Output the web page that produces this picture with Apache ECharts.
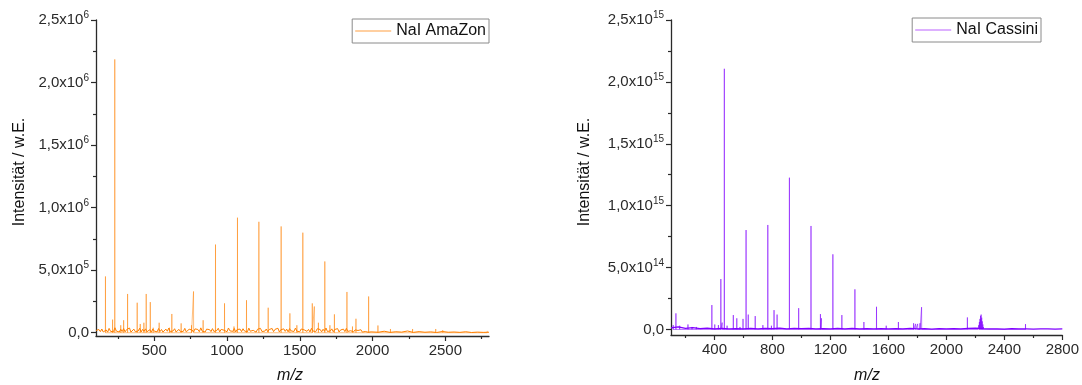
<!DOCTYPE html>
<html><head><meta charset="utf-8">
<script src="https://cdn.jsdelivr.net/npm/echarts@6/dist/echarts.min.js"></script>
<style>html,body{margin:0;padding:0;background:#fff}#c{width:1082px;height:385px}</style>
</head><body><div id="c"></div>
<script>
// ---------- Data: NaI AmaZon (left) ----------
const amazonPeakMz  = [165, 214, 229, 270, 290, 317, 383, 404, 429, 445, 473, 493, 534, 605, 621, 685, 756, 770, 836, 921, 983, 1048, 1072, 1134, 1219, 1283, 1372, 1432, 1480, 1521, 1586, 1600, 1628, 1672, 1707, 1738, 1824, 1862, 1886, 1973, 2037, 2123, 2275, 2434, 2482, 2788];
const amazonPeakInt = [450000, 105000, 2185000, 60000, 100000, 310000, 240000, 70000, 80000, 310000, 245000, 40000, 80000, 40000, 150000, 75000, 60000, 330000, 100000, 705000, 235000, 50000, 920000, 260000, 887000, 200000, 850000, 155000, 60000, 800000, 235000, 210000, 80000, 570000, 60000, 147000, 326000, 50000, 112000, 290000, 58000, 30000, 30000, 30000, 20000, 15000];
const amazonNoiseMz = [
  100,110,120,130,140,150,160,170,180,190,200,210,220,230,240,250,260,270,280,290,
  300,310,320,330,340,350,360,370,380,390,400,410,420,430,440,450,460,470,480,490,
  500,510,520,530,540,550,560,570,580,590,600,610,620,630,640,650,660,670,680,690,
  700,710,720,730,740,750,760,770,780,790,800,810,820,830,840,850,860,870,880,890,
  900,910,920,930,940,950,960,970,980,990,1000,1010,1020,1030,1040,1050,1060,1070,1080,1090,
  1100,1110,1120,1130,1140,1150,1160,1170,1180,1190,1200,1210,1220,1230,1240,1250,1260,1270,1280,1290,
  1300,1310,1320,1330,1340,1350,1360,1370,1380,1390,1400,1410,1420,1430,1440,1450,1460,1470,1480,1490,
  1500,1510,1520,1530,1540,1550,1560,1570,1580,1590,1600,1610,1620,1630,1640,1650,1660,1670,1680,1690,
  1700,1710,1720,1730,1740,1750,1760,1770,1780,1790,1800,1810,1820,1830,1840,1850,1860,1870,1880,1890,
  1900,1910,1920,1930,1940,1950,1960,1970,1980,1990,2000,
  2040,2080,2120,2160,2200,2240,2280,2320,2360,2400,2440,2480,2520,2560,2600,2640,2680,2720,2760,2800];
const amazonNoiseInt = [
  18e3,4e3,26e3,9e3,30e3,6e3,14e3,22e3,5e3,35e3,11e3,24e3,8e3,40e3,13e3,20e3,6e3,28e3,10e3,33e3,
  7e3,25e3,12e3,38e3,5e3,19e3,29e3,9e3,22e3,14e3,36e3,6e3,27e3,11e3,31e3,8e3,17e3,24e3,4e3,30e3,
  13e3,21e3,7e3,34e3,10e3,26e3,5e3,18e3,29e3,12e3,37e3,8e3,23e3,15e3,32e3,6e3,20e3,27e3,9e3,24e3,
  11e3,35e3,7e3,19e3,28e3,13e3,22e3,5e3,31e3,16e3,26e3,8e3,39e3,12e3,21e3,6e3,29e3,14e3,25e3,9e3,
  33e3,10e3,24e3,18e3,36e3,7e3,27e3,13e3,20e3,30e3,8e3,38e3,15e3,23e3,11e3,34e3,6e3,26e3,17e3,29e3,
  9e3,32e3,14e3,22e3,7e3,37e3,12e3,25e3,19e3,31e3,5e3,28e3,16e3,35e3,10e3,23e3,13e3,30e3,8e3,26e3,
  20e3,34e3,9e3,27e3,12e3,36e3,6e3,24e3,18e3,31e3,11e3,29e3,7e3,33e3,15e3,22e3,10e3,37e3,13e3,25e3,
  8e3,30e3,16e3,23e3,34e3,11e3,27e3,6e3,35e3,14e3,21e3,9e3,32e3,17e3,26e3,7e3,28e3,12e3,38e3,10e3,
  24e3,15e3,31e3,8e3,26e3,19e3,33e3,6e3,22e3,13e3,29e3,9e3,35e3,11e3,20e3,16e3,27e3,7e3,23e3,14e3,
  18e3,8e3,24e3,5e3,20e3,10e3,16e3,4e3,13e3,7e3,10e3,
  4e3,12e3,3e3,8e3,5e3,14e3,3e3,9e3,4e3,7e3,2e3,10e3,4e3,6e3,3e3,8e3,2e3,5e3,3e3,4e3];

// ---------- Data: NaI Cassini (right) ----------
const cassiniPeakMz  = [115, 134, 160, 217, 245, 275, 298, 382, 402, 427, 444, 453, 468, 487, 530, 554, 576, 597, 618, 633, 681, 734, 768, 793, 811, 832, 917, 981, 1066, 1131, 1138, 1217, 1279, 1369, 1431, 1518, 1585, 1669, 1733, 1774, 1788, 1802, 1818, 1829, 2145, 2218, 2224, 2228, 2232, 2236, 2240, 2244, 2248, 2252, 2256, 2262, 2546];
const cassiniPeakInt = [0.035e15, 0.13e15, 0.03e15, 0.04e15, 0.02e15, 0.02e15, 0.015e15, 0.197e15, 0.04e15, 0.035e15, 0.407e15, 0.055e15, 2.106e15, 0.03e15, 0.116e15, 0.09e15, 0.02e15, 0.085e15, 0.803e15, 0.12e15, 0.108e15, 0.035e15, 0.844e15, 0.03e15, 0.156e15, 0.12e15, 1.226e15, 0.172e15, 0.836e15, 0.124e15, 0.09e15, 0.607e15, 0.116e15, 0.324e15, 0.06e15, 0.183e15, 0.03e15, 0.06e15, 0.01e15, 0.05e15, 0.045e15, 0.045e15, 0.05e15, 0.18e15, 0.097e15, 0.015e15, 0.035e15, 0.06e15, 0.085e15, 0.11e15, 0.12e15, 0.095e15, 0.065e15, 0.04e15, 0.02e15, 0.01e15, 0.043e15];
const cassiniNoiseMz = [100,150,200,250,300,350,400,450,500,550,600,650,700,750,800,850,900,950,1000,1050,
  1100,1150,1200,1250,1300,1350,1400,1450,1500,1550,1600,1650,1700,1750,1800,1850,1900,1950,2000,2050,
  2100,2150,2200,2250,2300,2350,2400,2450,2500,2550,2600,2650,2700,2750,2800];
const cassiniNoiseInt = [12e12,20e12,8e12,15e12,6e12,10e12,5e12,9e12,4e12,7e12,5e12,8e12,4e12,9e12,6e12,10e12,5e12,8e12,6e12,9e12,
  5e12,7e12,4e12,8e12,5e12,9e12,4e12,6e12,5e12,7e12,4e12,6e12,5e12,8e12,4e12,6e12,3e12,7e12,5e12,6e12,
  4e12,8e12,10e12,6e12,4e12,5e12,3e12,6e12,4e12,5e12,3e12,5e12,4e12,3e12,4e12];

// ---------- Ticks & labels ----------
const amazonXMajor = [500, 1000, 1500, 2000, 2500];
const amazonXMinor = [250, 750, 1250, 1750, 2250, 2750];
const amazonXLabels = ['500', '1000', '1500', '2000', '2500'];
const cassiniXMajor = [400, 800, 1200, 1600, 2000, 2400, 2800];
const cassiniXMinor = [200, 600, 1000, 1400, 1800, 2200, 2600];
const cassiniXLabels = ['400', '800', '1200', '1600', '2000', '2400', '2800'];
const amazonYMajor = [0, 5e5, 1e6, 1.5e6, 2e6, 2.5e6];
const amazonYMinor = [2.5e5, 7.5e5, 1.25e6, 1.75e6, 2.25e6];
const amazonYLabels = [['0,0', ''], ['5,0x10', '5'], ['1,0x10', '6'], ['1,5x10', '6'], ['2,0x10', '6'], ['2,5x10', '6']];
const cassiniYMajor = [0, 5e14, 1e15, 1.5e15, 2e15, 2.5e15];
const cassiniYMinor = [2.5e14, 7.5e14, 1.25e15, 1.75e15, 2.25e15];
const cassiniYLabels = [['0,0', ''], ['5,0x10', '14'], ['1,0x10', '15'], ['1,5x10', '15'], ['2,0x10', '15'], ['2,5x10', '15']];

const FONT = '"Liberation Sans", Arial, Helvetica, sans-serif';
const AXC = '#2a2a2a';

function points(mz, val) { return mz.map((m, i) => [m, val[i]]); }
function sticks(pMz, pInt) {
  const pts = [];
  pMz.forEach((m, i) => { pts.push([m - 0.6, 0], [m, pInt[i]], [m + 0.6, 0]); });
  return pts;
}
function lookup(vals, labels, v) {
  for (let i = 0; i < vals.length; i++) if (Math.abs(vals[i] - v) <= Math.abs(vals[i]) * 1e-9 + 1e-9) return labels[i];
  return '';
}
const rich = {
  b: { fontSize: 15, lineHeight: 15, fontFamily: FONT, color: AXC, verticalAlign: 'bottom' },
  s: { fontSize: 10, lineHeight: 10, fontFamily: FONT, color: AXC, padding: [0, 0, 7, 0], verticalAlign: 'bottom' }
};
function xAxes(grid, min, max, major, minor, labels) {
  return [
    { gridIndex: grid, type: 'value', position: 'bottom', min, max,
      axisLine: { show: true, onZero: false, lineStyle: { color: AXC, width: 1.3 } },
      axisTick: { show: true, customValues: major, length: 5, lineStyle: { color: AXC, width: 1.2 } },
      axisLabel: { show: true, customValues: major, margin: 7, fontSize: 15, color: AXC, fontFamily: FONT,
        formatter: v => lookup(major, labels, v) },
      splitLine: { show: false } },
    { gridIndex: grid, type: 'value', position: 'bottom', min, max,
      axisLine: { show: false, onZero: false },
      axisTick: { show: true, customValues: minor, length: 3, lineStyle: { color: AXC, width: 1.2 } },
      axisLabel: { show: false }, splitLine: { show: false } }
  ];
}
function yAxes(grid, min, max, major, minor, labels) {
  return [
    { gridIndex: grid, type: 'value', position: 'left', min, max,
      axisLine: { show: true, onZero: false, lineStyle: { color: AXC, width: 1.3 } },
      axisTick: { show: true, customValues: major, length: 5, lineStyle: { color: AXC, width: 1.2 } },
      axisLabel: { show: true, customValues: major, margin: 7, color: AXC, fontFamily: FONT, fontSize: 15, rich,
        formatter: v => { const l = lookup(major, labels, v); return l[1] ? '{b|' + l[0] + '}{s|' + l[1] + '}' : '{b|' + l[0] + '}'; } },
      splitLine: { show: false } },
    { gridIndex: grid, type: 'value', position: 'left', min, max,
      axisLine: { show: false, onZero: false },
      axisTick: { show: true, customValues: minor, length: 3, lineStyle: { color: AXC, width: 1.2 } },
      axisLabel: { show: false }, splitLine: { show: false } }
  ];
}
function legend(name, right, top, lineColor) {
  return { data: [{ name, icon: 'rect' }], right, top, orient: 'horizontal', padding: [4, 3, 4, 3],
    itemWidth: 36, itemHeight: 2, itemGap: 5, borderColor: '#8a8a8a', borderWidth: 1, borderRadius: 0,
    itemStyle: { color: lineColor, borderWidth: 0 },
    textStyle: { fontSize: 16, lineHeight: 16, color: '#111', fontFamily: FONT } };
}

const chart = echarts.init(document.getElementById('c'), null, { renderer: 'canvas' });
chart.setOption({
  animation: false,
  backgroundColor: '#ffffff',
  grid: [
    { left: 96, right: 593, top: 20, bottom: 49 },
    { left: 671, right: 19, top: 20, bottom: 50 }
  ],
  xAxis: [].concat(
    xAxes(0, 100, 2800, amazonXMajor, amazonXMinor, amazonXLabels),
    xAxes(1, 100, 2800, cassiniXMajor, cassiniXMinor, cassiniXLabels)),
  yAxis: [].concat(
    yAxes(0, -26000, 2.5e6, amazonYMajor, amazonYMinor, amazonYLabels),
    yAxes(1, -0.045e15, 2.5e15, cassiniYMajor, cassiniYMinor, cassiniYLabels)),
  legend: [
    legend('NaI AmaZon', 593, 19, '#FFCFA0'),
    legend('NaI Cassini', 41, 18, '#DDB0FF')
  ],
  series: [
    { name: 'NaI AmaZon', type: 'line', xAxisIndex: 0, yAxisIndex: 0, symbol: 'none', showSymbol: false,
      data: points(amazonNoiseMz, amazonNoiseInt),
      itemStyle: { color: '#FF8000' }, lineStyle: { color: '#FF8000', width: 1 }, clip: true },
    { name: 'NaI AmaZon', type: 'line', xAxisIndex: 0, yAxisIndex: 0, symbol: 'none', showSymbol: false,
      data: sticks(amazonPeakMz, amazonPeakInt),
      itemStyle: { color: '#FF8000' }, lineStyle: { color: '#FF8000', width: 1, opacity: 0.5 }, clip: true },
    { name: 'NaI Cassini', type: 'line', xAxisIndex: 2, yAxisIndex: 2, symbol: 'none', showSymbol: false,
      data: points(cassiniNoiseMz, cassiniNoiseInt),
      itemStyle: { color: '#8000FF' }, lineStyle: { color: '#8000FF', width: 1.2 }, clip: true },
    { name: 'NaI Cassini', type: 'line', xAxisIndex: 2, yAxisIndex: 2, symbol: 'none', showSymbol: false,
      data: sticks(cassiniPeakMz, cassiniPeakInt),
      itemStyle: { color: '#8000FF' }, lineStyle: { color: '#8000FF', width: 1, opacity: 0.55 }, clip: true }
  ],
  graphic: [
    { type: 'text', x: 19.5, y: 172, rotation: Math.PI / 2,
      style: { text: 'Intensität / w.E.', font: '16px ' + FONT, fill: '#111', align: 'center', verticalAlign: 'middle' } },
    { type: 'text', x: 585, y: 172, rotation: Math.PI / 2,
      style: { text: 'Intensität / w.E.', font: '16px ' + FONT, fill: '#111', align: 'center', verticalAlign: 'middle' } },
    { type: 'text', x: 290, y: 376,
      style: { text: 'm/z', font: 'italic 16px ' + FONT, fill: '#111', align: 'center', verticalAlign: 'middle' } },
    { type: 'text', x: 867, y: 376,
      style: { text: 'm/z', font: 'italic 16px ' + FONT, fill: '#111', align: 'center', verticalAlign: 'middle' } }
  ]
});
</script></body></html>
